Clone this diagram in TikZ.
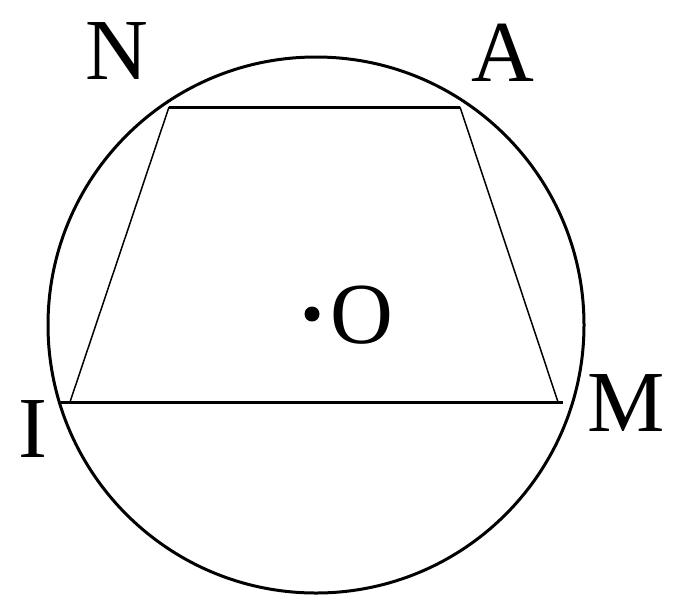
\documentclass[tikz,border=0pt]{standalone}
\usepackage{fontspec}
\newfontfamily\lblfont{Liberation Serif}
\begin{document}
\begin{tikzpicture}[x=1pt,y=-1pt,
  thick line/.style={line width=3pt},
  thin line/.style={line width=1.5pt},
  lbl/.style={inner sep=0pt, font=\lblfont\fontsize{87}{87}\selectfont}]
\useasboundingbox (0,0) rectangle (677,598);
\coordinate (O) at (316,325);
\coordinate (N) at (169,107);
\coordinate (A) at (460,107);
\coordinate (I) at (70,402);
\coordinate (Il) at (60,402);
\coordinate (M) at (558,402);
\coordinate (Mr) at (563,402);
\draw[thick line] (O) circle (268);
\draw[thick line] (N) -- (A);
\draw[thick line] (Il) -- (Mr);
\draw[thin line] (N) -- (I);
\draw[thin line] (A) -- (M);
\fill (312,314) circle (7.5);
\node[lbl] (tN) at (117,51) {N};
\node[lbl] (tA) at (503,53) {A};
\node[lbl] (tI) at (33,429) {I};
\node[lbl] (tM) at (626,403) {M};
\node[lbl] (tO) at (362,315) {O};
\end{tikzpicture}
\end{document}
